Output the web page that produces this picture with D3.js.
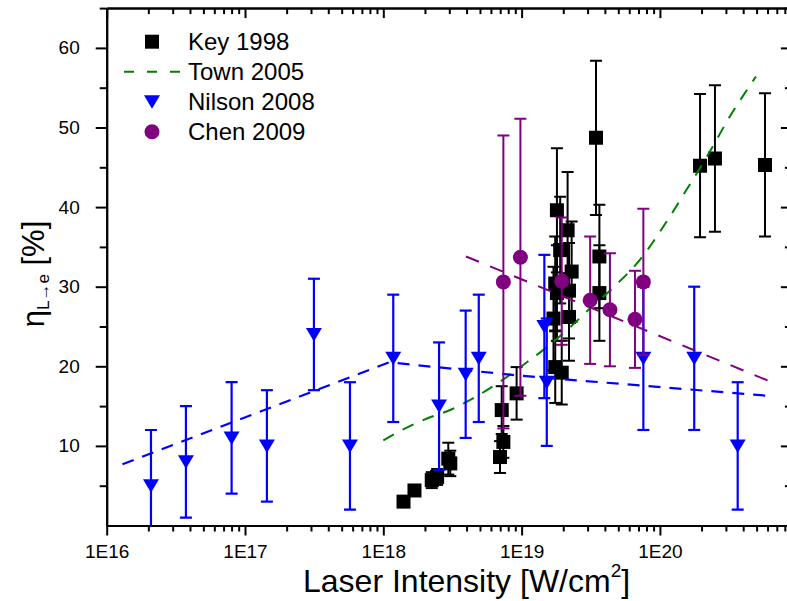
<!DOCTYPE html>
<html>
<head>
<meta charset="utf-8">
<script src="https://cdn.jsdelivr.net/npm/d3@7/dist/d3.min.js"></script>
<style>
  html, body { margin: 0; padding: 0; background: #fff; }
  svg { display: block; font-family: "Liberation Sans", Arial, sans-serif; }
</style>
</head>
<body>
<svg id="chart" width="787" height="601"></svg>
<script>
// Key 1998: intensity [W/cm^2], efficiency [%], error [%]
const keyIntensity = [1.40e18, 1.68e18, 2.24e18, 2.45e18, 2.95e18, 3.05e18,
  6.98e18, 7.38e18, 7.18e18, 9.2e18,
  1.80e19, 2.15e19, 1.90e19, 2.30e19, 1.75e19, 1.80e19, 2.20e19, 2.20e19, 1.70e19, 1.75e19, 1.95e19,
  3.45e19, 3.65e19, 3.65e19, 1.95e20, 2.50e20, 5.75e20];
const keyEta = [3.0, 4.4, 5.7, 6.1, 8.4, 7.8,
  8.6, 10.5, 14.5, 16.6,
  39.6, 37.1, 34.6, 31.9, 30.4, 29.2, 29.5, 26.2, 26.0, 19.9, 19.2,
  48.7, 33.8, 29.2, 45.2, 46.1, 45.3];
const keyErr = [0.5, 0.5, 1.0, 1.0, 2.0, 1.6,
  2.0, 2.0, 3.0, 3.3,
  7.8, 7.3, 6.7, 6.3, 5.9, 6.0, 6.0, 5.5, 6.5, 4.5, 4.0,
  9.7, 6.5, 6.0, 9.0, 9.2, 9.0];

// Town 2005 model curve
const townIntensity = [1e18, 1.44e18, 2.11e18, 3.13e18, 4.48e18, 6.61e18, 1.09e19, 1.52e19,
  2.24e19, 3.13e19, 4.6e19, 7.18e19, 1.12e20, 1.56e20, 2.18e20, 3.21e20, 4.95e20];
const townEta = [10.7, 12.2, 13.5, 14.6, 16.0, 17.8, 20.5, 22.4, 24.9, 27.3, 29.9, 33.4,
  38.2, 42.2, 46.3, 51.4, 56.4];

// Nilson 2008
const nilsonIntensity = [2.09e16, 3.74e16, 8.0e16, 1.44e17, 3.15e17, 5.74e17, 1.18e18,
  2.53e18, 3.94e18, 4.9e18, 1.46e19, 1.52e19, 7.59e19, 1.77e20, 3.65e20];
const nilsonEta = [5, 8, 11, 10, 24, 10, 21, 15, 19, 21, 25, 18, 21, 21, 10];
const nilsonErr = [7, 7, 7, 7, 7, 8, 8, 8, 8, 8, 9, 8, 9, 9, 8];
const nilsonFitIntensity = [1.3e16, 1.1e18, 1e19, 6e20];
const nilsonFitEta = [7.7, 20.5, 18.8, 16.3];

// Chen 2009
const chenIntensity = [7.38e18, 9.8e18, 1.95e19, 3.13e19, 4.35e19, 6.6e19, 7.59e19];
const chenEta = [30.6, 33.7, 30.7, 28.3, 27.1, 25.9, 30.6];
const chenErr = [18.4, 17.4, 8, 8, 7.1, 6.1, 9.2];
const chenFitIntensity = [3.96e18, 6.25e20];
const chenFitEta = [33.8, 18.1];

// Axis ticks
const majorTicksX = [1e16, 1e17, 1e18, 1e19, 1e20];
const majorTicksY = [10, 20, 30, 40, 50, 60];
const minorTicksY = [5, 15, 25, 35, 45, 55, 65];

const legendLabels = ["Key 1998", "Town 2005", "Nilson 2008", "Chen 2009"];

const COLORS = { key: "#000000", town: "#008000", nilson: "#0000ff", chen: "#800080" };

const svg = d3.select("#chart");
const x = d3.scaleLog().domain([1e16, 9e20]).range([106.7, 791.9]);
const y = d3.scaleLinear().domain([0, 65]).range([525.5, 8.1]);
const [x0, x1] = x.range();
const [yb, yt] = y.range();

const minorTicksX = [];
for (let e = 16; e <= 20; e++) {
  for (let m = 2; m <= 9; m++) {
    const v = m * Math.pow(10, e);
    if (v <= 9e20) minorTicksX.push(v);
  }
}
const fmtE = d => "1E" + Math.round(Math.log10(d));

function styleAxis(g) {
  g.selectAll("path.domain").attr("stroke", "#000").attr("stroke-width", 2);
  g.selectAll(".tick line").attr("stroke", "#000").attr("stroke-width", 2);
  g.selectAll(".tick text").attr("fill", "#000").attr("font-size", 19)
    .attr("font-family", "'Liberation Sans', Arial, sans-serif");
}

// Bottom axis
svg.append("g").attr("transform", `translate(0,${yb})`)
  .call(d3.axisBottom(x).tickValues(minorTicksX).tickSize(6).tickSizeOuter(0).tickFormat(""))
  .call(styleAxis);
svg.append("g").attr("transform", `translate(0,${yb})`)
  .call(d3.axisBottom(x).tickValues(majorTicksX).tickSize(10).tickSizeOuter(0).tickPadding(9).tickFormat(fmtE))
  .call(styleAxis);
// Top axis
svg.append("g").attr("transform", `translate(0,${yt})`)
  .call(d3.axisTop(x).tickValues(minorTicksX).tickSize(-6).tickSizeOuter(0).tickFormat(""))
  .call(styleAxis);
svg.append("g").attr("transform", `translate(0,${yt})`)
  .call(d3.axisTop(x).tickValues(majorTicksX).tickSize(-10).tickSizeOuter(0).tickFormat(""))
  .call(styleAxis);
// Left axis
svg.append("g").attr("transform", `translate(${x0},0)`)
  .call(d3.axisLeft(y).tickValues(minorTicksY).tickSize(7).tickSizeOuter(0).tickFormat(""))
  .call(styleAxis);
svg.append("g").attr("transform", `translate(${x0},0)`)
  .call(d3.axisLeft(y).tickValues(majorTicksY).tickSize(11).tickSizeOuter(0).tickPadding(16).tickFormat(d3.format("d")))
  .call(styleAxis);
// Right axis
svg.append("g").attr("transform", `translate(${x1},0)`)
  .call(d3.axisRight(y).tickValues(minorTicksY).tickSize(-7).tickSizeOuter(0).tickFormat(""))
  .call(styleAxis);
svg.append("g").attr("transform", `translate(${x1},0)`)
  .call(d3.axisRight(y).tickValues(majorTicksY).tickSize(-11).tickSizeOuter(0).tickFormat(""))
  .call(styleAxis);

// Axis titles
const xTitle = svg.append("text")
  .attr("x", 303).attr("y", 592)
  .attr("font-size", 32).attr("fill", "#000");
xTitle.append("tspan").text("Laser Intensity [W/cm");
xTitle.append("tspan").attr("font-size", 19).attr("dy", -15).text("2");
xTitle.append("tspan").attr("dy", 15).text("]");

const yTitle = svg.append("text")
  .attr("transform", "translate(44,274) rotate(-90)")
  .attr("text-anchor", "middle").attr("fill", "#000").attr("font-size", 31);
yTitle.append("tspan").text("η");
yTitle.append("tspan").attr("font-size", 17).attr("dy", 5).text("L→e");
yTitle.append("tspan").attr("dy", -5).text(" [%]");

// Plot clipping
svg.append("clipPath").attr("id", "plotClip")
  .append("rect").attr("x", x0).attr("y", yt).attr("width", x1 - x0).attr("height", yb - yt);
const plot = svg.append("g").attr("clip-path", "url(#plotClip)");

const CAP = 6;
function errorBars(g, xs, ys, es, color, width) {
  const rows = xs.map((v, i) => ({ x: x(v), lo: y(ys[i] - es[i]), hi: y(ys[i] + es[i]) }));
  const eg = g.append("g").attr("stroke", color).attr("stroke-width", width).attr("fill", "none");
  rows.forEach(r => {
    eg.append("line").attr("x1", r.x).attr("x2", r.x).attr("y1", r.lo).attr("y2", r.hi);
    eg.append("line").attr("x1", r.x - CAP).attr("x2", r.x + CAP).attr("y1", r.hi).attr("y2", r.hi);
    eg.append("line").attr("x1", r.x - CAP).attr("x2", r.x + CAP).attr("y1", r.lo).attr("y2", r.lo);
  });
}

const lineGen = d3.line().x(d => x(d[0])).y(d => y(d[1]));
const curveGen = d3.line().x(d => x(d[0])).y(d => y(d[1])).curve(d3.curveMonotoneX);

const squarePath = "M-7,-7H7V7H-7Z";
const trianglePath = "M-8,-6.5L8,-6.5L0,7Z";

// Key 1998
errorBars(plot, keyIntensity, keyEta, keyErr, COLORS.key, 2);
plot.append("g").selectAll("path").data(keyIntensity).join("path")
  .attr("d", squarePath)
  .attr("transform", (d, i) => `translate(${x(d)},${y(keyEta[i])})`)
  .attr("fill", COLORS.key);

// Town 2005
plot.append("path")
  .datum(townIntensity.map((v, i) => [v, townEta[i]]))
  .attr("d", curveGen).attr("fill", "none")
  .attr("stroke", COLORS.town).attr("stroke-width", 2).attr("stroke-dasharray", "12,10");

// Nilson 2008
plot.append("path")
  .datum(nilsonFitIntensity.map((v, i) => [v, nilsonFitEta[i]]))
  .attr("d", lineGen).attr("fill", "none")
  .attr("stroke", COLORS.nilson).attr("stroke-width", 2.2).attr("stroke-dasharray", "12,9");
errorBars(plot, nilsonIntensity, nilsonEta, nilsonErr, COLORS.nilson, 2.2);
plot.append("g").selectAll("path").data(nilsonIntensity).join("path")
  .attr("d", trianglePath)
  .attr("transform", (d, i) => `translate(${x(d)},${y(nilsonEta[i])})`)
  .attr("fill", COLORS.nilson);

// Chen 2009
plot.append("path")
  .datum(chenFitIntensity.map((v, i) => [v, chenFitEta[i]]))
  .attr("d", lineGen).attr("fill", "none")
  .attr("stroke", COLORS.chen).attr("stroke-width", 2).attr("stroke-dasharray", "14,12");
errorBars(plot, chenIntensity, chenEta, chenErr, COLORS.chen, 2);
plot.append("g").selectAll("circle").data(chenIntensity).join("circle")
  .attr("cx", d => x(d)).attr("cy", (d, i) => y(chenEta[i])).attr("r", 7.5)
  .attr("fill", COLORS.chen);

// Legend
const legend = svg.append("g");
const rowY = i => 41.7 + i * 30;
legend.append("path").attr("d", squarePath).attr("transform", `translate(152,${rowY(0)})`).attr("fill", COLORS.key);
legend.append("line").attr("x1", 124).attr("x2", 182).attr("y1", rowY(1)).attr("y2", rowY(1))
  .attr("stroke", COLORS.town).attr("stroke-width", 2).attr("stroke-dasharray", "10,13");
legend.append("path").attr("d", trianglePath).attr("transform", `translate(152,${rowY(2)})`).attr("fill", COLORS.nilson);
legend.append("circle").attr("cx", 152).attr("cy", rowY(3)).attr("r", 7.5).attr("fill", COLORS.chen);
legend.selectAll("text").data(legendLabels).join("text")
  .attr("x", 188).attr("y", (d, i) => rowY(i) + 8)
  .attr("font-size", 24).attr("fill", "#000").text(d => d);
</script>
</body>
</html>
